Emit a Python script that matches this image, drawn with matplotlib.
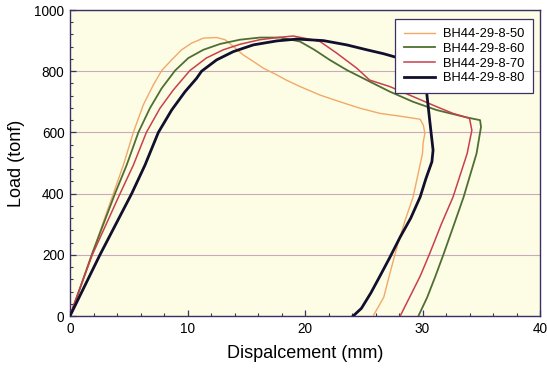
import matplotlib
matplotlib.use("Agg")
import matplotlib.pyplot as plt
from matplotlib.ticker import MultipleLocator

plt.rcParams['font.family'] = ['Liberation Sans', 'DejaVu Sans']

labels = ["BH44-29-8-50", "BH44-29-8-60", "BH44-29-8-70", "BH44-29-8-80"]

x50 = [0, 0.3, 1.85, 3.69, 4.54, 5.39, 6.24, 7.09, 7.8, 8.65, 9.5, 10.36, 11.35, 12.48,
       13.19, 13.9, 14.75, 15.6, 16.45, 17.6, 18.4, 19.57, 21.28, 22.98, 24.68, 26.4,
       28.1, 29.8, 30.07, 30.2, 30.05, 30.0, 29.6, 29.2, 28.5, 27.9, 27.3, 26.7, 25.8]
y50 = [0, 30, 200, 400, 493, 600, 690, 755, 802, 837, 870, 892, 908, 910,
       903, 881, 853, 832, 810, 788, 771, 750, 722, 700, 679, 662,
       653, 643, 624, 597, 564, 531, 460, 389, 310, 236, 150, 61, 0]

x60 = [0, 0.3, 1.85, 3.83, 4.82, 5.82, 6.8, 7.8, 8.94, 10.07, 11.35, 12.77, 14.47, 16.17,
       17.9, 19.57, 20.8, 22.1, 23.55, 25.25, 27.23, 29.2, 31.2, 33.76, 34.9, 34.98,
       34.6, 33.5, 32.6, 31.8, 31.1, 30.4, 29.65]
y60 = [0, 30, 200, 400, 493, 600, 679, 744, 802, 843, 870, 889, 903, 910,
       910, 897, 870, 837, 804, 771, 733, 700, 673, 649, 640, 618,
       531, 389, 290, 203, 130, 61, 0]

x70 = [0, 0.3, 1.9, 4.26, 5.39, 6.5, 7.66, 8.8, 10.2, 11.6, 13.05, 14.47, 16.17, 17.9,
       19.0, 20.2, 21.28, 22.7, 24.4, 25.5, 27.2, 29.2, 31.2, 32.6, 34.0, 34.2, 33.8,
       33.2, 32.6, 31.6, 30.6, 29.8, 28.9, 28.1]
y70 = [0, 35, 200, 400, 493, 600, 679, 739, 802, 843, 870, 888, 903, 911,
       915, 906, 897, 859, 810, 771, 750, 717, 684, 662, 646, 607, 531,
       460, 389, 300, 203, 130, 61, 0]

x80 = [0, 2.55, 5.25, 6.38, 7.52, 8.65, 9.79, 10.78, 11.2, 12.48, 13.9, 15.6, 17.6, 19.3,
       21.56, 23.55, 25.25, 26.7, 27.8, 29.0, 29.8, 30.2, 30.36, 30.64, 30.9, 30.8, 30.3,
       29.8, 29.0, 28.1, 27.2, 26.4, 25.6, 24.8, 24.1]
y80 = [0, 200, 400, 493, 600, 673, 733, 777, 800, 837, 864, 886, 899, 905,
       900, 886, 870, 857, 845, 825, 795, 760, 728, 630, 542, 504, 450,
       389, 320, 258, 190, 132, 75, 25, 0]

fig = plt.figure(figsize=(5.47, 3.70), dpi=100)
ax = fig.add_axes([70/547, 1 - 316/370, 470/547, 306/370])
ax.set_facecolor('#fdfde6')

ax.plot(x50, y50, color='#f2a868', lw=1.0, label=labels[0], zorder=3)
ax.plot(x60, y60, color='#4f6e32', lw=1.3, label=labels[1], zorder=3)
ax.plot(x70, y70, color='#c8404c', lw=1.1, label=labels[2], zorder=3)
ax.plot(x80, y80, color='#10102e', lw=2.0, label=labels[3], zorder=4)

ax.set_xlim(0, 40)
ax.set_ylim(0, 1000)
ax.xaxis.set_major_locator(MultipleLocator(10))
ax.xaxis.set_minor_locator(MultipleLocator(2))
ax.yaxis.set_major_locator(MultipleLocator(200))
ax.yaxis.set_minor_locator(MultipleLocator(40))
ax.tick_params(which='both', direction='in', color='#3b3060', labelsize=9.8, pad=4)
ax.tick_params(which='major', length=4, width=0.9)
ax.tick_params(which='minor', length=2.5, width=0.8)
ax.grid(axis='y', which='major', color='#c8aabb', lw=0.8, zorder=1)
for s in ax.spines.values():
    s.set_color('#3b3060')
    s.set_linewidth(1.0)

ax.set_xlabel('Dispalcement (mm)', fontsize=13, labelpad=7)
ax.set_ylabel('Load (tonf)', fontsize=13, labelpad=7)

leg = ax.legend(loc='upper right', bbox_to_anchor=(0.985, 0.97), borderaxespad=0,
                fontsize=9.3, frameon=True, fancybox=False, framealpha=1,
                edgecolor='#3b3060', handlelength=2.4, handletextpad=0.6,
                borderpad=0.7, labelspacing=0.2)
leg.get_frame().set_linewidth(0.9)
leg.set_zorder(5)

fig.savefig('out.png', dpi=100)
